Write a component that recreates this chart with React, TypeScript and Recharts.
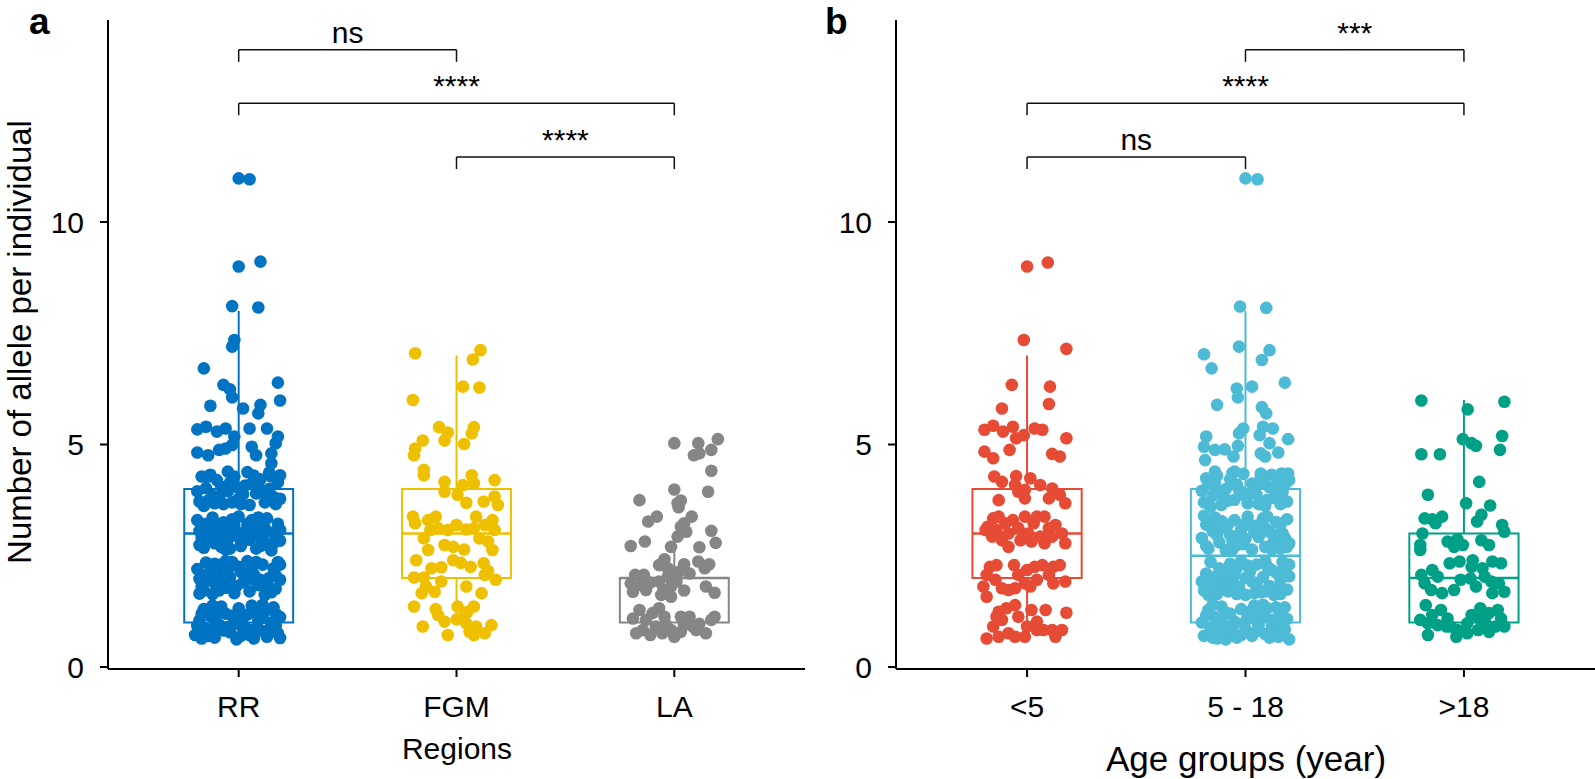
import React from 'react';
import { ComposedChart, Scatter, XAxis, YAxis, ReferenceArea, ReferenceLine } from 'recharts';

const FONT = '"Liberation Sans", Arial, Helvetica, sans-serif';

type Pt = [number, number]; // [jitter offset in category units, value]

// ---- panel a: regions ----
const regionNames = ['RR', 'FGM', 'LA'];
const regionColors = ['#0073C2', '#EFC000', '#868686'];
const regionQ1 = [1, 2, 1];
const regionMedian = [3, 3, 2];
const regionQ3 = [4, 4, 2];
const regionLow = [1, 1, 1];
const regionHigh = [8, 7, 3];
const regionTests: [number, number, string][] = [[1, 2, 'ns'], [1, 3, '****'], [2, 3, '****']];

const rrPoints: Pt[] = [
  [0, 10.98], [0.05, 10.96], [0, 9.0], [0.1, 9.11], [-0.03, 8.11], [0.09, 8.08], [-0.02, 7.35], [-0.03, 7.2],
  [-0.16, 6.71], [-0.07, 6.34], [-0.04, 6.24], [-0.03, 6.06], [0.18, 6.39], [0.19, 5.99], [-0.13, 5.87], [0.02, 5.81],
  [0.1, 5.89], [0.09, 5.7], [-0.19, 5.34], [-0.15, 5.4], [-0.1, 5.29], [-0.06, 5.36], [-0.02, 5.18], [0.05, 5.36],
  [0.13, 5.36], [0.18, 5.18], [0.17, 5.03], [-0.19, 4.82], [-0.14, 4.76], [-0.09, 4.88], [-0.06, 4.91], [-0.03, 4.99],
  [0.06, 4.95], [0.08, 4.76], [0.15, 4.8], [0.15, 4.58], [-0.14, 4.28], [-0.05, 4.39], [0.14, 4.37], [0.19, 4.31],
  [-0.18, 3.72], [-0.15, 4.02], [-0.12, 3.85], [-0.1, 4.2], [-0.07, 3.66], [-0.05, 3.95], [-0.02, 4.28], [0, 3.78],
  [0.03, 4.08], [0.05, 3.64], [0.08, 3.9], [0.1, 4.22], [0.12, 3.7], [0.14, 4.0], [0.16, 3.82], [0.18, 4.15],
  [-0.19, 3.95], [-0.13, 4.32], [-0.08, 4.05], [0.02, 3.88], [0.07, 4.3], [0.17, 3.66], [-0.16, 3.62], [-0.03, 3.7],
  [0.11, 3.96], [0.19, 3.78], [-0.11, 3.68], [0.06, 4.12],
  [-0.17, 4.28], [-0.09, 3.82], [-0.04, 4.14], [0.01, 3.66], [0.04, 4.38], [0.09, 4.05], [0.13, 3.86], [0.15, 4.28],
  [-0.14, 3.74], [0, 4.02],
  [-0.19, 3.3], [-0.17, 2.9], [-0.16, 2.68], [-0.14, 3.12], [-0.12, 3.36], [-0.11, 2.78], [-0.09, 3.0], [-0.07, 3.25],
  [-0.06, 2.64], [-0.04, 2.92], [-0.02, 3.18], [0, 3.38], [0.01, 2.72], [0.03, 3.05], [0.05, 2.86], [0.06, 3.3],
  [0.08, 2.66], [0.1, 3.1], [0.11, 2.94], [0.13, 3.34], [0.14, 2.74], [0.16, 3.02], [0.18, 3.22], [0.19, 2.84],
  [-0.18, 3.06], [-0.13, 2.86], [-0.08, 2.7], [-0.03, 3.32], [0.02, 2.98], [0.09, 3.36], [0.15, 2.62], [0.17, 2.9],
  [-0.15, 3.22], [-0.05, 3.08], [0.07, 3.16], [0.12, 2.8],
  [-0.18, 2.74], [-0.15, 2.98], [-0.1, 3.18], [-0.07, 2.84], [-0.01, 3.02], [0.04, 3.22], [0.08, 2.96], [0.12, 3.12],
  [0.16, 2.78], [0.19, 3.08], [-0.12, 3.0], [0.01, 2.82], [0.1, 2.72], [-0.04, 2.66],
  [-0.19, 2.2], [-0.17, 1.8], [-0.15, 2.35], [-0.13, 1.95], [-0.12, 1.64], [-0.1, 2.12], [-0.08, 2.3], [-0.06, 1.78],
  [-0.04, 2.02], [-0.02, 1.66], [0, 2.25], [0.02, 1.9], [0.04, 2.38], [0.05, 1.7], [0.07, 2.08], [0.09, 1.84],
  [0.11, 2.3], [0.12, 1.62], [0.14, 2.0], [0.16, 2.22], [0.17, 1.76], [0.19, 1.96], [-0.18, 1.65], [-0.14, 2.1],
  [-0.07, 1.94], [0.01, 2.14], [0.08, 2.36], [0.13, 1.82], [0.18, 2.36], [-0.11, 1.88], [-0.03, 2.36], [0.06, 1.98],
  [-0.18, 1.98], [-0.16, 1.72], [-0.11, 2.32], [-0.09, 1.72], [-0.05, 2.18], [-0.01, 1.82], [0.03, 2.06], [0.06, 2.22],
  [0.1, 1.96], [0.15, 1.68], [0.17, 2.06], [0.19, 2.3], [-0.06, 2.38],
  [-0.2, 0.72], [-0.18, 1.05], [-0.16, 1.3], [-0.15, 0.85], [-0.13, 1.15], [-0.11, 0.66], [-0.09, 0.95], [-0.08, 1.36],
  [-0.06, 1.2], [-0.04, 0.78], [-0.02, 1.02], [0, 1.32], [0.01, 0.7], [0.03, 0.9], [0.04, 1.18], [0.06, 1.38],
  [0.07, 0.64], [0.09, 1.05], [0.1, 0.82], [0.12, 1.25], [0.13, 0.68], [0.15, 1.0], [0.16, 1.34], [0.18, 0.76],
  [0.19, 1.12], [-0.17, 0.64], [-0.12, 1.38], [-0.05, 0.9], [0.02, 1.12], [0.11, 1.4], [0.17, 0.92], [-0.1, 1.0],
  [-0.01, 0.62], [0.08, 0.88],
  [-0.19, 0.92], [-0.17, 1.2], [-0.14, 0.7], [-0.1, 1.2], [-0.07, 0.82], [-0.03, 1.15], [0, 0.96], [0.05, 0.72],
  [0.08, 1.22], [0.11, 1.1], [0.14, 0.85], [0.17, 1.2], [0.19, 0.65], [-0.12, 0.86],
];

const fgmPoints: Pt[] = [
  [-0.19, 7.05], [0.11, 7.12], [0.075, 6.91], [0.03, 6.3], [0.105, 6.28], [-0.2, 6.0], [-0.08, 5.39], [-0.04, 5.27],
  [-0.055, 5.09], [0.08, 5.39], [0.07, 5.25], [-0.155, 5.09], [-0.19, 4.91], [-0.195, 4.76], [0.035, 5.01], [-0.15, 4.43],
  [-0.15, 4.31], [-0.055, 4.16], [0.07, 4.31], [0.08, 4.13], [0.175, 4.2], [-0.055, 3.94], [0.005, 3.87], [0.03, 4.09],
  [0.045, 3.69], [0.125, 3.72], [0.175, 3.83], [0.19, 3.64], [-0.2, 3.38], [-0.19, 3.23], [-0.13, 3.3], [-0.095, 3.38],
  [-0.12, 3.08], [-0.085, 3.12], [-0.04, 3.08], [0, 3.19], [0.045, 3.09], [0.09, 3.38], [0.08, 3.12], [0.13, 3.19],
  [0.165, 3.3], [0.175, 3.08], [-0.15, 2.89], [-0.13, 2.63], [-0.055, 2.74], [-0.015, 2.7], [0.035, 2.64], [0.105, 2.89],
  [0.145, 2.82], [0.165, 2.63], [-0.185, 2.4], [-0.115, 2.22], [-0.07, 2.24], [-0.015, 2.4], [0.02, 2.34], [0.065, 2.25],
  [0.125, 2.33], [0.145, 2.16], [0.13, 2.07], [-0.195, 2.01], [-0.15, 2.01], [-0.07, 1.92], [0.18, 1.96], [-0.14, 1.81],
  [-0.16, 1.66], [-0.1, 1.69], [0.045, 1.81], [0.115, 1.66], [-0.195, 1.36], [-0.095, 1.3], [-0.085, 1.17], [0.005, 1.36],
  [0, 1.07], [0.05, 1.24], [0.08, 1.36], [-0.055, 1.02], [0.045, 0.98], [0.06, 0.79], [0.09, 0.91], [-0.155, 0.91],
  [-0.04, 0.72], [0.08, 0.72], [0.13, 0.76], [0.16, 0.94], [0.035, 1.13],
];

const laPoints: Pt[] = [
  [0, 5.03], [0.11, 5.03], [0.2, 5.12], [0.09, 4.76], [0.115, 4.8], [0.17, 4.88], [0.17, 4.41], [0, 3.99],
  [0.155, 3.94], [-0.16, 3.75], [0.015, 3.68], [0.03, 3.74], [0.02, 3.59], [-0.12, 3.27], [-0.08, 3.38], [0.08, 3.38],
  [0.045, 3.23], [0.03, 3.15], [0.055, 3.04], [0.17, 3.06], [-0.2, 2.72], [-0.135, 2.82], [0.015, 2.93], [-0.015, 2.7],
  [0.19, 2.79], [0.115, 2.69], [-0.045, 2.42], [-0.07, 2.29], [-0.03, 2.22], [0.045, 2.31], [0.11, 2.37], [0.16, 2.31],
  [0.14, 2.22], [-0.18, 2.07], [-0.14, 2.07], [-0.2, 1.88], [-0.15, 1.84], [-0.11, 1.9], [-0.19, 1.69], [-0.13, 1.73],
  [-0.07, 1.92], [-0.03, 2.03], [-0.05, 1.73], [-0.015, 1.81], [-0.06, 1.62], [0.01, 1.92], [0.045, 1.72], [-0.015, 1.58],
  [0.07, 2.1], [0.145, 1.81], [0.185, 1.67], [0.02, 2.14], [-0.19, 1.09], [-0.16, 1.28], [-0.13, 1.06], [-0.1, 1.21],
  [-0.07, 1.32], [-0.045, 1.13], [-0.085, 0.91], [-0.145, 0.83], [-0.175, 0.76], [-0.11, 0.72], [-0.055, 0.76], [-0.015, 0.83],
  [-0.04, 0.97], [0.03, 1.13], [0.07, 1.13], [0.045, 0.94], [0.03, 0.79], [0.1, 0.83], [0.115, 0.97], [0.145, 0.76],
  [0.17, 1.06], [0.185, 1.13], [0.085, 0.91], [0, 0.68],
];

// ---- panel b: age groups ----
const ageNames = ['<5', '5 - 18', '>18'];
const ageColors = ['#E64B35', '#4DBBD5', '#00A087'];
const ageQ1 = [2, 1, 1];
const ageMedian = [3, 2.5, 2];
const ageQ3 = [4, 4, 3];
const ageLow = [1, 1, 1];
const ageHigh = [7, 8, 6];
const ageTests: [number, number, string][] = [[2, 3, '***'], [1, 3, '****'], [1, 2, 'ns']];

const under5Points: Pt[] = [
  [0, 9.0], [0.095, 9.09], [-0.015, 7.35], [0.18, 7.15], [-0.07, 6.34], [0.105, 6.3], [0.1, 5.91], [-0.115, 5.81],
  [-0.195, 5.33], [-0.155, 5.42], [-0.11, 5.29], [-0.065, 5.4], [-0.05, 5.14], [-0.015, 5.21], [0.035, 5.36], [0.07, 5.33],
  [0.18, 5.14], [-0.195, 4.84], [-0.155, 4.69], [-0.08, 4.88], [0.115, 4.79], [0.15, 4.73], [-0.15, 4.28], [-0.05, 4.29],
  [0.015, 4.24], [-0.115, 4.16], [-0.055, 4.09], [0.06, 4.09], [0.115, 4.01], [-0.01, 3.98], [-0.04, 3.94], [0.15, 3.87],
  [0.1, 3.79], [0.175, 3.68], [-0.13, 3.75], [-0.01, 3.79],
  [-0.18, 3.15], [-0.155, 3.34], [-0.13, 3.38], [-0.14, 3.08], [-0.115, 2.85], [-0.1, 3.23], [-0.085, 3.0], [-0.065, 3.3],
  [-0.04, 3.12], [-0.03, 2.85], [-0.01, 3.38], [0.005, 3.0], [0.03, 3.23], [0.045, 3.38], [0.06, 2.93], [0.08, 3.38],
  [0.1, 3.12], [0.13, 3.19], [0.115, 2.93], [0.16, 3.0], [0.175, 2.78], [0.08, 2.78], [0.02, 2.82], [-0.085, 2.7],
  [-0.16, 2.93], [-0.19, 3.08],
  [-0.185, 2.07], [-0.2, 1.81], [-0.17, 2.25], [-0.14, 2.29], [-0.115, 1.77], [-0.085, 1.73], [-0.055, 1.77], [-0.06, 2.29],
  [-0.04, 2.07], [-0.01, 1.88], [0, 2.18], [0.035, 2.25], [0.07, 2.29], [0.1, 2.07], [0.12, 2.25], [0.15, 2.29],
  [0.175, 1.92], [0.12, 1.88], [0.045, 1.96], [-0.145, 1.96], [-0.185, 1.58], [0.015, 1.81],
  [-0.13, 1.24], [-0.095, 1.32], [-0.055, 1.39], [-0.155, 0.91], [-0.115, 1.06], [-0.04, 1.13], [0.02, 1.28], [0.085, 1.28],
  [0.18, 1.22], [0.045, 1.02], [0.075, 0.83], [0.115, 0.83], [0.16, 0.83], [0, 0.91], [-0.085, 0.76], [-0.185, 0.64],
  [-0.13, 0.68], [-0.055, 0.68], [-0.01, 0.68], [0.13, 0.68], [0.045, 0.83], [-0.14, 1.13],
];

const age5to18Points: Pt[] = [
  [0, 10.98], [0.055, 10.96], [-0.025, 8.1], [0.095, 8.07], [-0.03, 7.2], [0.11, 7.12], [0.075, 6.9], [-0.19, 7.03],
  [-0.155, 6.71], [-0.04, 6.26], [-0.035, 6.06], [0.03, 6.3], [0.18, 6.39], [-0.13, 5.89], [0.075, 5.84], [0.095, 5.7],
  [-0.01, 5.36], [-0.03, 5.25], [0.08, 5.4], [0.125, 5.36], [0.065, 5.21], [-0.18, 5.18], [0.195, 5.12], [0.11, 5.03],
  [-0.19, 4.95], [-0.14, 4.88], [-0.095, 4.89], [-0.035, 4.97], [-0.055, 4.73], [0.07, 4.8], [0.09, 4.73], [0.15, 4.82],
  [-0.185, 4.65], [-0.14, 4.39], [-0.05, 4.39], [0.07, 4.35], [0.165, 4.35], [0.195, 4.35],
  [-0.19, 3.7], [-0.17, 4.1], [-0.15, 3.85], [-0.13, 4.3], [-0.11, 3.64], [-0.09, 4.0], [-0.07, 4.22], [-0.05, 3.76],
  [-0.03, 3.98], [-0.01, 4.34], [0.01, 3.68], [0.03, 4.12], [0.05, 3.88], [0.07, 4.26], [0.09, 3.62], [0.11, 4.04],
  [0.13, 3.8], [0.15, 4.18], [0.17, 3.94], [0.19, 3.72], [-0.16, 3.6], [-0.12, 3.94], [-0.06, 4.36], [0, 3.84],
  [0.06, 3.66], [0.12, 4.32], [0.18, 4.1], [-0.18, 4.24], [0.04, 4.0], [-0.08, 3.74],
  [-0.2, 3.96], [-0.14, 4.14], [-0.1, 3.8], [-0.04, 4.1], [0.02, 3.9], [0.08, 4.16], [0.1, 3.76], [0.14, 3.96],
  [0.16, 3.66], [0.2, 4.2],
  [-0.2, 2.9], [-0.18, 3.2], [-0.17, 2.66], [-0.15, 3.05], [-0.14, 3.36], [-0.12, 2.8], [-0.1, 3.14], [-0.09, 2.62],
  [-0.07, 2.96], [-0.05, 3.3], [-0.04, 2.74], [-0.02, 3.08], [0, 2.88], [0.01, 3.38], [0.03, 2.64], [0.05, 3.18],
  [0.06, 2.92], [0.08, 3.34], [0.09, 2.7], [0.11, 3.04], [0.13, 2.84], [0.14, 3.26], [0.16, 2.66], [0.17, 3.0],
  [0.19, 3.32], [0.2, 2.78], [-0.19, 3.4], [-0.13, 2.96], [-0.06, 2.64], [0.02, 3.2], [0.1, 3.38], [0.18, 2.9],
  [-0.11, 3.28], [-0.01, 2.76], [0.07, 3.02], [0.15, 2.98],
  [-0.18, 2.72], [-0.16, 3.18], [-0.12, 3.1], [-0.08, 3.2], [-0.03, 2.94], [0, 3.22], [0.04, 3.04], [0.09, 3.12],
  [0.12, 2.64], [0.16, 3.2], [0.19, 2.7], [-0.06, 2.82],
  [-0.19, 1.72], [-0.18, 2.1], [-0.16, 2.36], [-0.15, 1.9], [-0.13, 1.64], [-0.12, 2.22], [-0.1, 1.98], [-0.08, 1.7],
  [-0.07, 2.32], [-0.05, 2.06], [-0.03, 1.8], [-0.02, 2.38], [0, 1.62], [0.02, 2.14], [0.03, 1.92], [0.05, 2.3],
  [0.07, 1.68], [0.08, 2.02], [0.1, 2.26], [0.11, 1.82], [0.13, 1.62], [0.14, 2.12], [0.16, 1.96], [0.17, 2.36],
  [0.19, 1.74], [0.2, 2.04], [-0.17, 1.62], [-0.11, 1.86], [-0.04, 2.22], [0.04, 1.66], [0.09, 2.38], [0.15, 1.76],
  [-0.14, 2.02], [-0.06, 1.94], [0.01, 2.28], [0.18, 2.2],
  [-0.2, 1.92], [-0.16, 1.66], [-0.12, 1.74], [-0.09, 2.16], [-0.04, 1.64], [0, 2.0], [0.05, 1.84], [0.09, 1.7],
  [0.12, 2.18], [0.16, 1.64], [0.2, 2.3], [-0.07, 1.84],
  [-0.2, 1.0], [-0.19, 0.7], [-0.17, 1.28], [-0.16, 0.88], [-0.14, 1.12], [-0.13, 0.64], [-0.11, 1.36], [-0.1, 0.96],
  [-0.08, 0.76], [-0.07, 1.2], [-0.05, 1.02], [-0.04, 0.66], [-0.02, 1.3], [0, 0.86], [0.01, 1.1], [0.03, 0.7],
  [0.04, 1.38], [0.06, 0.94], [0.07, 1.16], [0.09, 0.74], [0.1, 1.32], [0.12, 0.9], [0.13, 1.06], [0.15, 0.68],
  [0.16, 1.24], [0.18, 0.84], [0.19, 1.08], [0.2, 0.62], [-0.15, 1.4], [-0.09, 0.62], [-0.01, 0.98], [0.08, 1.4],
  [0.14, 1.34], [0.17, 0.98], [-0.12, 1.04], [0.05, 0.8],
  [-0.18, 1.16], [-0.15, 0.66], [-0.11, 0.82], [-0.06, 0.88], [-0.02, 0.72], [0.02, 1.24], [0.05, 1.04], [0.09, 1.12],
  [0.11, 0.66], [0.15, 0.94], [0.18, 1.34], [-0.09, 1.22],
];

const over18Points: Pt[] = [
  [-0.195, 5.99], [0.185, 5.96], [0.017, 5.79], [-0.005, 5.12], [0.035, 5.03], [0.055, 4.97], [0.175, 5.19], [0.165, 4.88],
  [-0.195, 4.78], [-0.11, 4.78], [0.07, 4.16], [-0.165, 3.87], [0.01, 3.68], [0.12, 3.63], [-0.18, 3.34], [-0.145, 3.32],
  [-0.1, 3.38], [-0.13, 3.23], [0.08, 3.42], [0.06, 3.27], [0.175, 3.19], [0.185, 3.04], [-0.19, 3.0], [-0.2, 2.74],
  [-0.2, 2.63], [-0.075, 2.82], [-0.045, 2.7], [-0.03, 2.87], [-0.005, 2.74], [0.08, 2.85], [0.115, 2.74], [-0.065, 2.33],
  [-0.02, 2.37], [0.04, 2.4], [0.035, 2.25], [0.085, 2.22], [0.13, 2.37], [0.17, 2.33], [-0.195, 2.07], [-0.145, 2.18],
  [-0.12, 2.03], [-0.18, 1.88], [-0.15, 1.73], [-0.1, 1.66], [-0.045, 1.73], [-0.015, 1.96], [0.03, 1.99], [0.055, 1.81],
  [0.095, 2.03], [0.125, 1.92], [0.16, 1.88], [0.185, 1.69], [0.13, 1.66], [-0.175, 1.39], [-0.145, 1.17], [-0.105, 1.28],
  [-0.2, 1.06], [-0.075, 1.09], [-0.165, 0.98], [-0.12, 0.94], [-0.06, 0.91], [-0.03, 0.83], [-0.035, 0.68], [0.015, 0.98],
  [0.035, 1.17], [0.075, 1.32], [0.07, 1.09], [0.1, 0.98], [0.115, 1.21], [0.155, 1.28], [0.17, 1.09], [0.185, 0.91],
  [0.145, 0.91], [0.065, 0.83], [-0.165, 0.72], [0.115, 0.79], [0.015, 0.76], [-0.08, 0.91],
];

const yTicks = [0, 5, 10];
const BRACKET_LEVELS = [13.87, 12.67, 11.46];
const BRACKET_DROP = 0.27;

type PanelProps = {
  names: string[];
  colors: string[];
  q1: number[];
  med: number[];
  q3: number[];
  lo: number[];
  hi: number[];
  points: Pt[][];
  tests: [number, number, string][];
  width: number;
  xTickSize: number;
  yTickSize: number;
};

const Panel = ({ names, colors, q1, med, q3, lo, hi, points, tests, width, xTickSize, yTickSize }: PanelProps) => {
  const series = points.map((pts, i) => pts.map(([dx, v]) => ({ x: i + 1 + dx, y: v })));
  const hw = 0.25;
  return (
    <ComposedChart width={width} height={779} margin={{ top: 20, right: 2, bottom: 0, left: 0 }}>
      <XAxis
        type="number"
        dataKey="x"
        domain={[0.4, 3.6]}
        ticks={[1, 2, 3]}
        interval={0}
        allowDataOverflow
        tickFormatter={(v: number) => names[v - 1]}
        height={110}
        tickSize={8}
        tickMargin={19}
        axisLine={{ stroke: '#000', strokeWidth: 2 }}
        tickLine={{ stroke: '#000', strokeWidth: 2 }}
        tick={{ fontSize: xTickSize, fill: '#000', fontFamily: FONT }}
      />
      <YAxis
        type="number"
        dataKey="y"
        domain={[-0.045, 14.54]}
        ticks={yTicks}
        interval={0}
        allowDataOverflow
        width={108}
        tickSize={8}
        tickMargin={16}
        axisLine={{ stroke: '#000', strokeWidth: 2 }}
        tickLine={{ stroke: '#000', strokeWidth: 2 }}
        tick={{ fontSize: yTickSize, fill: '#000', fontFamily: FONT }}
      />
      {names.map((n, i) => (
        <ReferenceArea key={'box' + n} x1={i + 1 - hw} x2={i + 1 + hw} y1={q1[i]} y2={q3[i]}
          fill="none" fillOpacity={0} stroke={colors[i]} strokeWidth={2} />
      ))}
      {names.map((n, i) => (
        <ReferenceLine key={'med' + n} segment={[{ x: i + 1 - hw, y: med[i] }, { x: i + 1 + hw, y: med[i] }]}
          stroke={colors[i]} strokeWidth={2.5} />
      ))}
      {names.map((n, i) => (
        <ReferenceLine key={'hi' + n} segment={[{ x: i + 1, y: q3[i] }, { x: i + 1, y: hi[i] }]}
          stroke={colors[i]} strokeWidth={2} />
      ))}
      {names.map((n, i) => lo[i] < q1[i] ? (
        <ReferenceLine key={'lo' + n} segment={[{ x: i + 1, y: lo[i] }, { x: i + 1, y: q1[i] }]}
          stroke={colors[i]} strokeWidth={2} />
      ) : null)}
      {series.map((d, i) => (
        <Scatter key={'pts' + names[i]} data={d} isAnimationActive={false}
          shape={(p: any) => <circle cx={p.cx} cy={p.cy} r={6.3} fill={colors[i]} />} />
      ))}
      {tests.map(([a, b, label], k) => {
        const lvl = BRACKET_LEVELS[k];
        return (
          <React.Fragment key={'t' + k}>
            <ReferenceLine segment={[{ x: a, y: lvl }, { x: b, y: lvl }]} stroke="#111" strokeWidth={1.5}
              label={{ value: label, position: 'top', offset: 7, fontSize: 30, fill: '#000', fontFamily: FONT }} />
            <ReferenceLine segment={[{ x: a, y: lvl - BRACKET_DROP }, { x: a, y: lvl }]} stroke="#111" strokeWidth={1.5} />
            <ReferenceLine segment={[{ x: b, y: lvl - BRACKET_DROP }, { x: b, y: lvl }]} stroke="#111" strokeWidth={1.5} />
          </React.Fragment>
        );
      })}
    </ComposedChart>
  );
};

export default function App() {
  return (
    <div style={{ position: 'absolute', left: 0, top: 0, width: 1595, height: 779, background: '#fff', overflow: 'hidden', fontFamily: FONT }}>
      <div style={{ position: 'absolute', left: 0, top: 0 }}>
        <Panel names={regionNames} colors={regionColors} q1={regionQ1} med={regionMedian} q3={regionQ3}
          lo={regionLow} hi={regionHigh} points={[rrPoints, fgmPoints, laPoints]} tests={regionTests}
          width={807} xTickSize={30} yTickSize={30} />
      </div>
      <div style={{ position: 'absolute', left: 788, top: 0 }}>
        <Panel names={ageNames} colors={ageColors} q1={ageQ1} med={ageMedian} q3={ageQ3}
          lo={ageLow} hi={ageHigh} points={[under5Points, age5to18Points, over18Points]} tests={ageTests}
          width={809} xTickSize={30} yTickSize={30} />
      </div>
      <svg width={1595} height={779} style={{ position: 'absolute', left: 0, top: 0, pointerEvents: 'none' }}>
        <text x={29} y={34} fontSize={37} fontWeight="bold" fill="#000" fontFamily={FONT}>a</text>
        <text x={825} y={34} fontSize={37} fontWeight="bold" fill="#000" fontFamily={FONT}>b</text>
        <text transform="translate(31, 342) rotate(-90)" textAnchor="middle" fontSize={33} fill="#000" fontFamily={FONT}>
          Number of allele per individual
        </text>
        <text x={457} y={759} textAnchor="middle" fontSize={30} fill="#000" fontFamily={FONT}>Regions</text>
        <text x={1246} y={771} textAnchor="middle" fontSize={35} fill="#000" fontFamily={FONT}>Age groups (year)</text>
      </svg>
    </div>
  );
}
